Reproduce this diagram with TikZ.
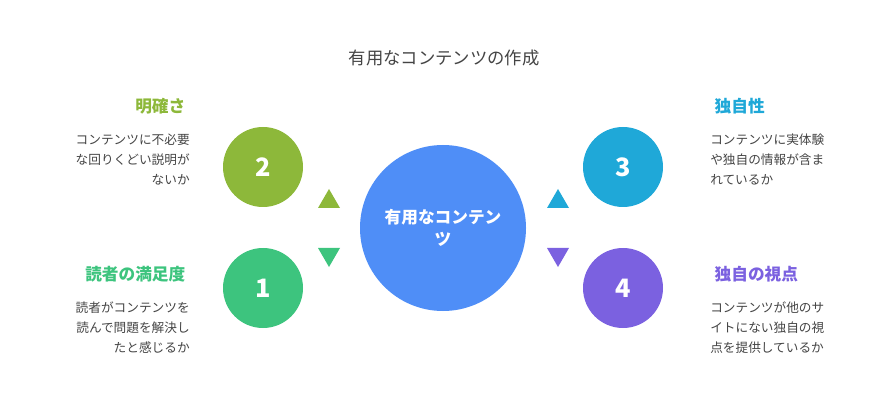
\documentclass[tikz,border=0pt]{standalone}
\usepackage{fontspec}
\setmainfont{Noto Sans CJK JP}
\newfontfamily\cjkbold[BoldFont={Noto Sans CJK JP Bold}]{Noto Sans CJK JP}
\usetikzlibrary{positioning}
\definecolor{cMain}{HTML}{4F8EF7}
\definecolor{cOlive}{HTML}{8DB83A}
\definecolor{cGreen}{HTML}{3DC47E}
\definecolor{cBlue}{HTML}{1FA8D8}
\definecolor{cPurple}{HTML}{7B61E0}
\definecolor{cText}{HTML}{444444}
\tikzset{
  step circle/.style={circle, fill=#1, minimum size=60pt, inner sep=0pt,
    text=white, font=\fontsize{19}{19}\selectfont\bfseries},
  heading/.style={font=\fontsize{12.5}{14}\selectfont\bfseries, text=#1},
  body/.style={font=\fontsize{9.5}{15}\selectfont, text=cText, inner sep=0pt},
  tri/.style={fill=#1, draw=none}
}
\begin{document}
\begin{tikzpicture}[x=0.75pt,y=-0.75pt]
\useasboundingbox (0,0) rectangle (888,420);
% title
\node[font=\fontsize{13}{15}\selectfont, text=cText] (title) at (444,58) {有用なコンテンツの作成};
% center
\node[circle, fill=cMain, minimum size=124.5pt, inner sep=0pt, text=white,
  align=center, font=\fontsize{12.5}{17}\selectfont\bfseries] (main) at (443,228) {有用なコンテン\\ツ};
% circles
\node[step circle=cOlive] (c2) at (263,167) {2};
\node[step circle=cGreen] (c1) at (263,288) {1};
\node[step circle=cBlue] (c3) at (623,167) {3};
\node[step circle=cPurple] (c4) at (623,288) {4};
% triangles
\fill[tri=cOlive] (318,208) -- (340,208) -- (329,189) -- cycle;
\fill[tri=cGreen] (318,248) -- (340,248) -- (329,267) -- cycle;
\fill[tri=cBlue] (547,208) -- (569,208) -- (558,189) -- cycle;
\fill[tri=cPurple] (547,248) -- (569,248) -- (558,267) -- cycle;
% left
\node[heading=cOlive, anchor=east] (h2) at (190,106) {明確さ};
\node[body, anchor=north east, align=right] (t2) at (190,134) {コンテンツに不必要\\な回りくどい説明が\\ないか};
\node[heading=cGreen, anchor=east] (h1) at (190,274) {読者の満足度};
\node[body, anchor=north east, align=right] (t1) at (190,302) {読者がコンテンツを\\読んで問題を解決し\\たと感じるか};
% right
\node[heading=cBlue, anchor=west] (h3) at (710,106) {独自性};
\node[body, anchor=north west, align=left] (t3) at (710,134) {コンテンツに実体験\\や独自の情報が含ま\\れているか};
\node[heading=cPurple, anchor=west] (h4) at (710,274) {独自の視点};
\node[body, anchor=north west, align=left] (t4) at (710,302) {コンテンツが他のサ\\イトにない独自の視\\点を提供しているか};
\end{tikzpicture}
\end{document}
